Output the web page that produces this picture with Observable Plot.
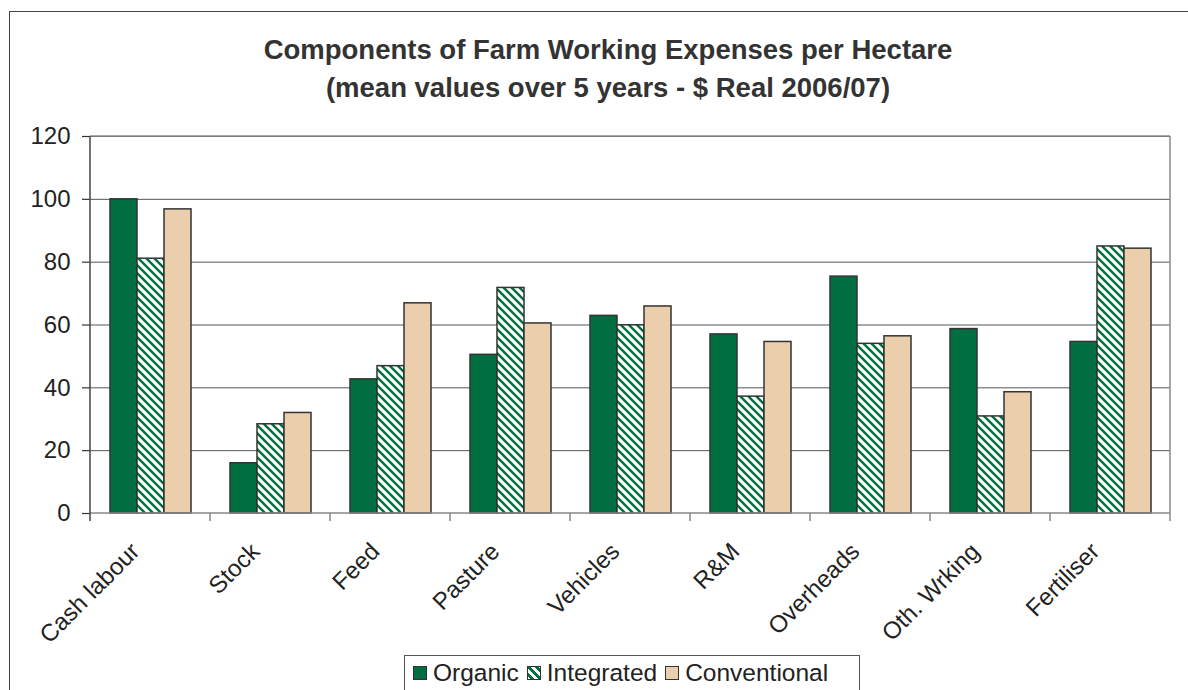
<!DOCTYPE html>
<html>
<head>
<meta charset="utf-8">
<script src="https://cdn.jsdelivr.net/npm/d3@7"></script>
<script src="https://cdn.jsdelivr.net/npm/@observablehq/plot@0.6"></script>
<style>
  html, body { margin: 0; padding: 0; background: #fff; overflow: hidden; }
  body { width: 1188px; height: 690px; position: relative; font-family: "Liberation Sans", Arial, sans-serif; }
  #frame { position: absolute; left: 9px; top: 11px; width: 1200px; height: 700px; border: 1.5px solid #444; box-sizing: border-box; }
  #title { position: absolute; left: 0; width: 1216px; top: 31px; text-align: center; font-weight: bold; font-size: 27.5px; line-height: 38px; color: #333; }
  #chart { position: absolute; left: 0; top: 0; }
  #legend { position: absolute; left: 404px; top: 655px; width: 456px; height: 50px; border: 1.5px solid #555; box-sizing: border-box; background: #fff; font-size: 24.5px; color: #222; padding: 2px 0 0 8px; white-space: nowrap; }
  .item { display: inline-flex; align-items: center; margin-right: 8px; }
  .sw { display: inline-block; width: 12px; height: 12px; border: 1px solid #333; margin-right: 6px; }
</style>
</head>
<body>
<div id="frame"></div>
<div id="title">Components of Farm Working Expenses per Hectare<br>(mean values over 5 years - $ Real 2006/07)</div>
<div id="chart"></div>
<div id="legend"></div>
<script>
const categories = ["Cash labour", "Stock", "Feed", "Pasture", "Vehicles", "R&M", "Overheads", "Oth. Wrking", "Fertiliser"];
const series = ["Organic", "Integrated", "Conventional"];
const organic      = [100, 16.0, 42.7, 50.5, 62.9, 57.0, 75.4, 58.7, 54.6];
const integrated   = [81.1, 28.4, 46.9, 71.8, 59.9, 37.2, 54.0, 30.9, 85.0];
const conventional = [96.8, 32.0, 66.9, 60.5, 65.9, 54.6, 56.4, 38.6, 84.3];
const yTicks = [0, 20, 40, 60, 80, 100, 120];
const seriesFills = ["#006E40", "url(#hatch)", "#EBCFAC"];

const values = {Organic: organic, Integrated: integrated, Conventional: conventional};
const data = [];
categories.forEach((c, i) => series.forEach(s => data.push({cat: c, series: s, value: values[s][i]})));

const W = 1188, H = 640;
const plot = Plot.plot({
  width: W, height: H,
  marginLeft: 90, marginRight: 18, marginTop: 136, marginBottom: 127,
  style: {fontFamily: "'Liberation Sans', Arial, sans-serif", fontSize: "24px", color: "#222", background: "transparent", overflow: "visible"},
  fx: {domain: categories, padding: 0, label: null, axis: null},
  x: {domain: series, paddingInner: 0, paddingOuter: 0.722, axis: null},
  y: {domain: [0, 120], label: null},
  color: {domain: series, range: seriesFills},
  marks: [
    Plot.ruleY(yTicks.filter(d => d > 0), {stroke: "#555", strokeWidth: 1}),
    Plot.barY(data, {fx: "cat", x: "series", y: "value", fill: "series", stroke: "#333", strokeWidth: 1.5}),
    Plot.axisY({ticks: yTicks, tickSize: 8, tickPadding: 12, label: null, stroke: "#333", strokeWidth: 1.2, fontSize: 24}),
    Plot.axisFx({anchor: "bottom", tickRotate: -45, tickSize: 0, tickPadding: 0, dx: -15, dy: 34, label: null, fill: "#222", fontSize: 24})
  ]
});

// hatch pattern definition
const svg = d3.select(plot);
const defs = svg.insert("defs", ":first-child");
const pat = defs.append("pattern").attr("id", "hatch").attr("patternUnits", "userSpaceOnUse")
  .attr("width", 8).attr("height", 8);
pat.append("rect").attr("width", 8).attr("height", 8).attr("fill", "#fff");
pat.append("path").attr("d", "M-2,-2L10,10M-2,6L2,10M6,-2L10,2")
  .attr("stroke", "#00703C").attr("stroke-width", 2.4);

// plot-area decorations from the library's scales
const fx = plot.scale("fx"), y = plot.scale("y");
const y0 = y.apply(0), y1 = y.apply(120);
const left = fx.apply(categories[0]);
const right = fx.apply(categories[categories.length - 1]) + fx.bandwidth;
const deco = svg.append("g");
deco.append("line").attr("x1", left).attr("x2", right).attr("y1", y1).attr("y2", y1).attr("stroke", "#888").attr("stroke-width", 1.5);
deco.append("line").attr("x1", right).attr("x2", right).attr("y1", y1).attr("y2", y0).attr("stroke", "#888").attr("stroke-width", 1.5);
deco.append("line").attr("x1", left).attr("x2", right).attr("y1", y0).attr("y2", y0).attr("stroke", "#888").attr("stroke-width", 1.5);
deco.append("line").attr("x1", left).attr("x2", left).attr("y1", y1).attr("y2", y0 + 8).attr("stroke", "#444").attr("stroke-width", 1.5);
categories.forEach((c, i) => {
  if (i === 0) return;
  const xb = fx.apply(c);
  deco.append("line").attr("x1", xb).attr("x2", xb).attr("y1", y0).attr("y2", y0 + 8).attr("stroke", "#888").attr("stroke-width", 1.5);
});
deco.append("line").attr("x1", right).attr("x2", right).attr("y1", y0).attr("y2", y0 + 8).attr("stroke", "#888").attr("stroke-width", 1.5);

document.getElementById("chart").appendChild(plot);

// legend
const lg = d3.select("#legend");
series.forEach((s, i) => {
  const it = lg.append("span").attr("class", "item");
  const sw = it.append("span").attr("class", "sw");
  if (i === 1) {
    sw.style("background", "repeating-linear-gradient(45deg, #fff 0 2px, #00703C 2px 4.5px, #fff 4.5px 5.7px)");
  } else {
    sw.style("background", seriesFills[i]);
  }
  it.append("span").text(s);
});
</script>
</body>
</html>
